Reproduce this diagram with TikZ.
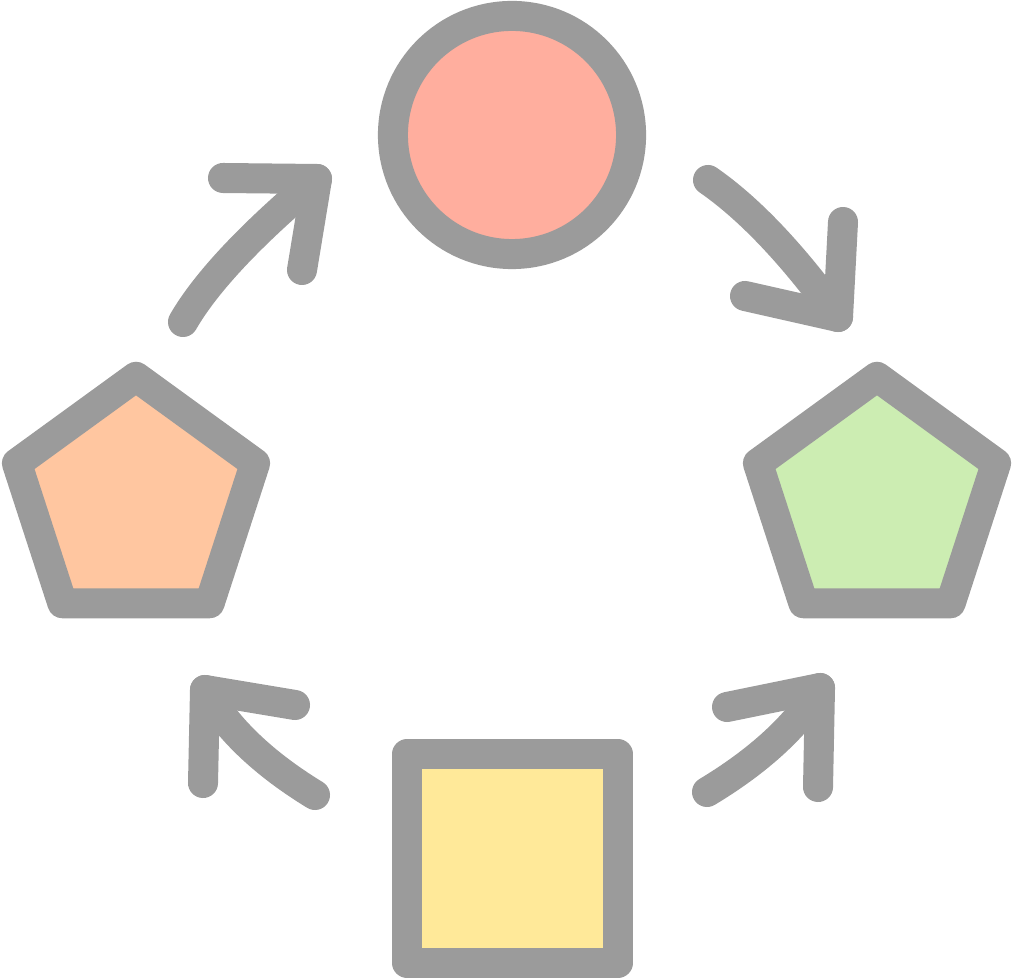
\documentclass[tikz,border=0pt]{standalone}
\usetikzlibrary{calc}
\definecolor{edgegray}{RGB}{155,155,155}
\definecolor{circfill}{RGB}{255,174,158}
\definecolor{lpfill}{RGB}{255,198,160}
\definecolor{rpfill}{RGB}{204,237,178}
\definecolor{sqfill}{RGB}{255,233,153}
\begin{document}
\begin{tikzpicture}[x=0.01cm,y=-0.01cm,
  shapeline/.style={draw=edgegray,line width=0.3cm,line join=round},
  arrowline/.style={draw=edgegray,line width=0.3cm,line cap=round,line join=round}]
\useasboundingbox (0,0) rectangle (1013,980);
% circle
\node[shapeline,fill=circfill,circle,inner sep=0pt,minimum size=2.38cm] (circ) at (512,135) {};
% square
\node[shapeline,fill=sqfill,rectangle,inner sep=0pt,minimum width=2.1cm,minimum height=2.09cm] (sq) at (512.5,858.5) {};
% pentagons
\coordinate (lp) at (136,502);
\coordinate (rp) at (877,502);
\draw[shapeline,fill=lpfill,shift={(lp)}] (0,-125.2) -- (119.1,-38.7) -- (73.6,101.3) -- (-73.6,101.3) -- (-119.1,-38.7) -- cycle;
\draw[shapeline,fill=rpfill,shift={(rp)}] (0,-125.2) -- (119.1,-38.7) -- (73.6,101.3) -- (-73.6,101.3) -- (-119.1,-38.7) -- cycle;
% arrow coordinates
\coordinate (tlS) at (183,322); \coordinate (tlQ) at (217,263); \coordinate (tlC) at (317,179);
\coordinate (tlA) at (223,178); \coordinate (tlB) at (302,270);
\coordinate (trS) at (708,180); \coordinate (trQ) at (770,223); \coordinate (trC) at (838,317);
\coordinate (trA) at (745,296); \coordinate (trB) at (843,222);
\coordinate (brS) at (707,792); \coordinate (brQ) at (785,745); \coordinate (brC) at (820,688);
\coordinate (brA) at (727,707); \coordinate (brB) at (818,787);
\coordinate (blS) at (315,795); \coordinate (blQ) at (238,748); \coordinate (blC) at (205,690);
\coordinate (blA) at (295,705); \coordinate (blB) at (203,783);
% arrows
\foreach \a in {tl,tr,br,bl}{
  \draw[arrowline] (\a S) .. controls ($(\a S)!2/3!(\a Q)$) and ($(\a C)!2/3!(\a Q)$) .. (\a C);
  \draw[arrowline] (\a A) -- (\a C) -- (\a B);
}
\end{tikzpicture}
\end{document}
